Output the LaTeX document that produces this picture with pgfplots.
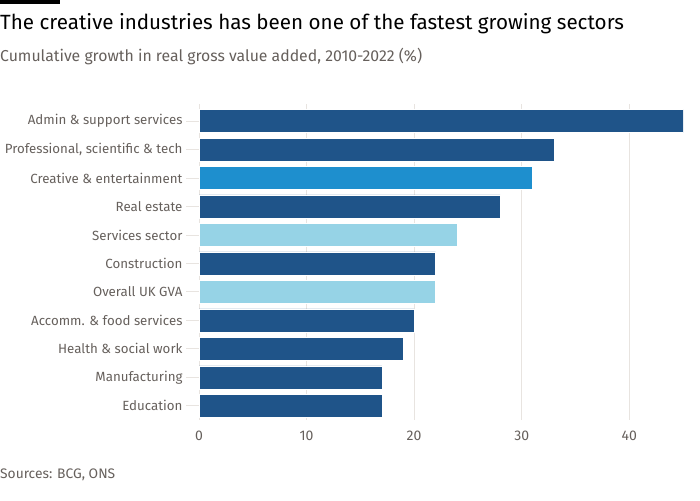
\documentclass[border=0pt]{standalone}
\usepackage{pgfplots}
\pgfplotsset{compat=1.18}
\usepackage{fontspec}
\setmainfont{Fira Sans}
\definecolor{darkb}{HTML}{1F5489}
\definecolor{midb}{HTML}{1E8FCE}
\definecolor{lightb}{HTML}{96D3E6}
\definecolor{gridc}{HTML}{E8E4E0}
\definecolor{txt}{HTML}{66605C}
\begin{document}
\begin{tikzpicture}
\path[use as bounding box] (0pt,0pt) rectangle (700pt,500pt);
\fill[black] (0pt,496pt) rectangle (60pt,500pt);
\node[anchor=base west,inner sep=0] at (0pt,470pt) {\fontsize{20.6}{24}\selectfont The creative industries has been one of the fastest growing sectors};
\node[anchor=base west,inner sep=0,text=txt] at (0pt,438pt) {\fontsize{15.8}{18}\selectfont Cumulative growth in real gross value added, 2010-2022 (\%)};
\node[anchor=base west,inner sep=0,text=txt] at (0pt,22pt) {\fontsize{13.8}{17}\selectfont Sources: BCG, ONS};
\begin{axis}[
  at={(199pt,80pt)}, anchor=south west,
  scale only axis, width=484pt, height=316pt,
  xbar, bar width=23pt, bar shift=0pt,
  xmin=0, xmax=45, ymin=-0.5, ymax=10.6,
  axis line style={draw=none},
  xtick={0,10,20,30,40},
  xmajorgrids, grid style={gridc, line width=0.8pt},
  ytick={0,...,10},
  ytick pos=left,
  yticklabels={Education,Manufacturing,Health \& social work,Accomm. \& food services,Overall UK GVA,Construction,Services sector,Real estate,Creative \& entertainment,{Professional, scientific \& tech},Admin \& support services},
  tick align=outside,
  x tick style={draw=none},
  y tick style={draw=gridc, line width=0.8pt},
  major tick length=13pt,
  y tick label style={font=\fontsize{13.3}{16}\selectfont, text=txt},
  x tick label style={font=\fontsize{14}{17}\selectfont, text=txt},
  /pgf/number format/assume math mode=true,
  xticklabel style={yshift=6pt},
]
\addplot[fill=darkb, draw=white, line width=0.4pt, bar shift=0pt] coordinates {(17,0) (17,1) (19,2) (20,3) (22,5) (28,7) (33,9) (45,10)};
\addplot[fill=lightb, draw=white, line width=0.4pt, bar shift=0pt] coordinates {(22,4) (24,6)};
\addplot[fill=midb, draw=white, line width=0.4pt, bar shift=0pt] coordinates {(31,8)};
\end{axis}
\end{tikzpicture}
\end{document}
